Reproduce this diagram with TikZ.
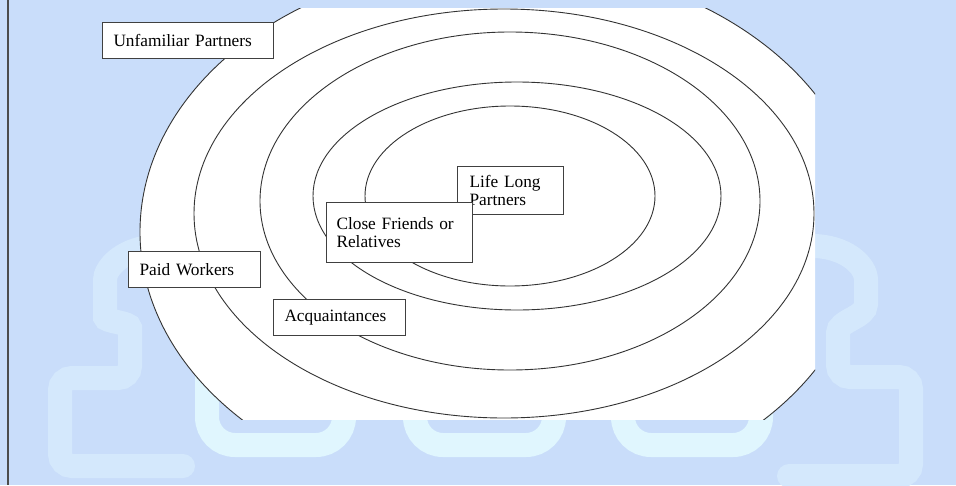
\documentclass[tikz,border=0pt]{standalone}
\usepackage{fontspec}
\setmainfont{Liberation Serif}
\definecolor{fond}{HTML}{C9DDFA}
\definecolor{bleupale}{HTML}{D4E8FC}
\definecolor{cyanpale}{HTML}{E0F6FE}
\definecolor{trait}{HTML}{333333}

\begin{document}
\begin{tikzpicture}[x=1pt, y=-1pt,
    anneau/.style={draw=trait, line width=0.9pt},
    cadre/.style={draw=black!75, line width=1pt, fill=white, anchor=north west,
        inner ysep=0pt, align=left, font=\fontsize{17.3}{18}\selectfont},
    filigrane/.style={draw=bleupale, line width=24pt, rounded corners=12pt, line cap=round},
    vague/.style={draw=cyanpale, line width=24pt, rounded corners=28pt, line cap=round}]
        % Fond
        \useasboundingbox (0,0) rectangle (956,485);
        \fill[fond] (0,0) rectangle (956,485);
        \draw[black!70, line width=1.5pt] (8,0) -- (8,485);

        % Filigrane
        \draw[filigrane] (150,247) .. controls (122,250) and (105,268) .. (105,292)
            -- (105,305) .. controls (105,322) and (130,322) .. (130,340)
            -- (130,378) -- (60,378) -- (60,466) -- (183,466);
        \draw[filigrane] (812,246) .. controls (845,246) and (866,265) .. (866,292)
            .. controls (866,318) and (838,320) .. (838,345)
            -- (838,377) -- (911,377) -- (911,476) -- (789,476);
        \foreach \xg/\xd in {207/344, 415/554, 623/761}
            \draw[vague] (\xg,360) -- (\xg,445) -- (\xd,445) -- (\xd,360);

        % Ellipses
        \begin{scope}
            \clip (0,8) rectangle (815,419);
            \filldraw[anneau, fill=white] (503,232) ellipse (363 and 270);
        \end{scope}
        \draw[anneau] (504,213.5) ellipse (310 and 204.5);
        \draw[anneau] (510,201) ellipse (250 and 169);
        \draw[anneau] (517,196) ellipse (204 and 114);
        \draw[anneau] (510,196) ellipse (145 and 90);

        % Etiquettes
        \node[cadre, inner xsep=11pt, text width=149pt, minimum height=36pt] (inconnus) at (102,22) {Unfamiliar Partners};
        \node[cadre, inner xsep=12pt, text width=82pt, minimum height=48pt] (vie) at (457,166) {Life Long\\Partners};
        \node[cadre, inner xsep=10pt, text width=126pt, minimum height=60pt] (proches) at (326,202) {Close Friends or\\Relatives};
        \node[cadre, inner xsep=11pt, text width=110pt, minimum height=36pt] (payes) at (128,251) {Paid Workers};
        \node[cadre, inner xsep=11pt, text width=110pt, minimum height=36pt] (connaissances) at (273,299) {Acquaintances};
    \end{tikzpicture}
\end{document}
